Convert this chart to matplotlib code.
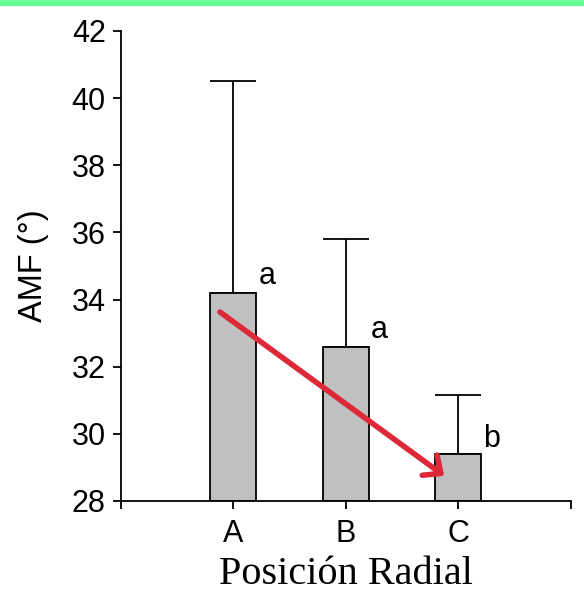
import numpy as np
import matplotlib
matplotlib.use("Agg")
import matplotlib.pyplot as plt

# data
posiciones = ["A", "B", "C"]
amf_media = [34.2, 32.6, 29.4]
amf_error = [6.3, 3.2, 1.75]
letras = ["a", "a", "b"]
letra_y = [34.7, 33.1, 29.85]

plt.rcParams["font.family"] = ["Liberation Sans", "DejaVu Sans"]

fig = plt.figure(figsize=(5.84, 5.96), dpi=100)
# green band along the top
fig.patches.append(plt.Rectangle((0, 0.991), 1, 0.009, transform=fig.transFigure,
                                 color="#66ff99", zorder=0))
ax = fig.add_axes([0.2072, 0.1594, 0.7700, 0.7886])

x = np.arange(1, len(posiciones) + 1)
ax.bar(x, np.array(amf_media) - 28, bottom=28, width=0.41, color="#c0c0c0",
       edgecolor="black", linewidth=1.3, zorder=2)
ax.errorbar(x, amf_media, yerr=[np.zeros(3), amf_error], fmt="none",
            ecolor="black", elinewidth=1.3, capsize=16.5, capthick=1.3, zorder=1)

for xi, l, ly in zip(x, letras, letra_y):
    ax.text(xi + 0.3, ly, l, fontsize=22, ha="center", va="center")

# trend arrow
ax.annotate("", xy=(2.875, 28.75), xytext=(0.88, 33.63),
            arrowprops=dict(arrowstyle="->,head_length=1.0,head_width=0.9",
                            color="#dc2837", lw=4, shrinkA=0, shrinkB=0),
            zorder=3)

ax.set_xlim(0, 4)
ax.set_ylim(28, 42)
ax.set_xticks([0, 1, 2, 3, 4])
ax.set_xticklabels(["", "A", "B", "C", ""])
ax.set_yticks(np.arange(28, 43, 2))
ax.tick_params(labelsize=22, length=6, width=1.3, pad=5)
ax.tick_params(axis="x", pad=7)
for s in ["top", "right"]:
    ax.spines[s].set_visible(False)
for s in ["left", "bottom"]:
    ax.spines[s].set_linewidth(1.3)

ax.set_ylabel("AMF (°)", fontsize=23.5, labelpad=16)
ax.set_xlabel("Posición Radial", fontsize=29, family="Liberation Serif", labelpad=5)

fig.savefig("out.png", dpi=100)
